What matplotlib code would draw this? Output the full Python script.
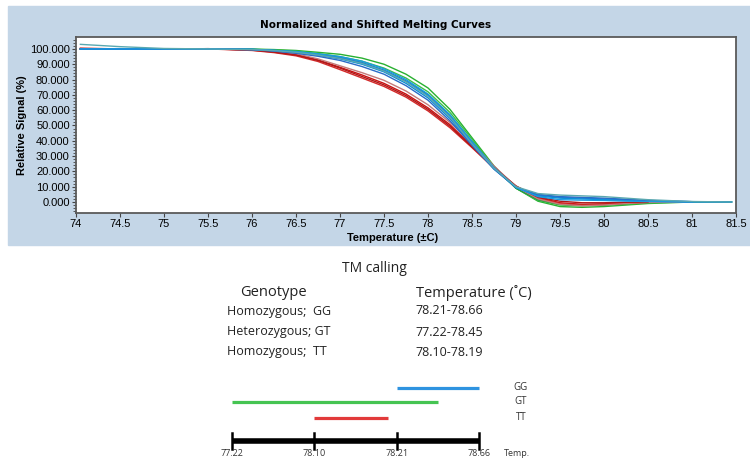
import numpy as np
import matplotlib
matplotlib.use("Agg")
import matplotlib.pyplot as plt
from matplotlib.patches import Rectangle
from matplotlib.ticker import MultipleLocator

nan = np.nan

# --- melting curves (relative signal %) ---
temps = [74.05, 74.5, 75.0, 75.5, 76.0, 76.25, 76.5, 76.75, 77.0, 77.25, 77.5,
         77.75, 78.0, 78.25, 78.5, 78.75, 79.0, 79.25, 79.5, 79.75, 80.0,
         80.25, 80.5, 81.0, 81.45]

red_curves = [
    [100.5, 100, 99.8, 100.2, 99.3, 98.2, 96.3, 92.8, 88.0, 83.0, 77.5, 70.5,
     61.5, 50.5, 36.5, 22.5, 10.5, 3.0, -0.5, -1.5, -1.2, -0.6, nan, nan, nan],
    [100.2, 99.8, 100.1, 100.0, 99.0, 97.6, 95.5, 91.8, 86.5, 81.0, 75.5, 68.5,
     59.5, 48.5, 35.5, 22.0, 10.0, 2.5, -1.0, -2.0, -1.5, -0.8, -0.2, nan, nan],
    [100, 100.1, 99.9, 100, 99.5, 98.5, 96.8, 93.5, 89.0, 84.5, 79.5, 72.5,
     63.5, 52.0, 38.5, 23.5, 10.0, 2.0, -1.5, -2.5, -2.0, -1.0, -0.3, 0, nan],
    [100, 99.9, 100, 100.1, 99.2, 97.9, 96.0, 92.5, 87.5, 82.0, 76.5, 69.5,
     60.5, 49.5, 36.0, 22.5, 10.2, 3.2, 0.5, -0.5, -0.5, -0.2, 0, nan, nan],
]
red_colors = ["#cc1010", "#d42a2a", "#c47a7a", "#b01818"]

green_curves = [
    [100, 100, 100, 100, 99.9, 99.6, 99.0, 97.8, 96.5, 94.0, 90.0, 83.5,
     74.5, 60.5, 42.0, 23.5, 9.0, 0.5, -3.0, -3.5, -3.0, -2.0, -1.0, 0, 0],
    [100, 100, 100, 100, 99.8, 99.3, 98.5, 97.0, 95.0, 92.0, 87.5, 81.0,
     72.0, 58.5, 41.0, 23.0, 9.0, 1.0, -2.0, -2.5, -2.2, -1.5, -0.5, 0, nan],
    [100, 100, 100, 100, 99.7, 99.0, 98.0, 96.2, 94.0, 91.0, 86.0, 79.0,
     70.0, 56.5, 39.5, 22.5, 9.0, 1.5, -1.5, -2.0, -1.8, -1.0, -0.3, nan, nan],
]
green_colors = ["#28b030", "#3cc048", "#1e9a40"]

blue_curves = [
    [100, 99.8, 100, 100, 99.7, 99.0, 98.0, 96.5, 94.5, 91.0, 86.0, 79.0,
     69.5, 56.0, 38.5, 22.0, 9.5, 4.5, 3.0, 2.5, 2.0, 1.5, 0.8, 0.2, 0],
    [100, 100.2, 99.8, 100, 99.6, 98.8, 97.6, 95.8, 93.5, 90.0, 85.0, 77.5,
     68.0, 54.5, 37.5, 21.5, 9.5, 4.0, 2.5, 2.0, 1.5, 1.0, 0.5, 0, 0],
    [99.8, 100, 100, 100, 99.5, 98.6, 97.2, 95.2, 92.5, 88.5, 83.5, 76.0,
     66.5, 53.0, 37.0, 21.5, 9.5, 5.0, 3.5, 3.0, 2.5, 1.8, 1.0, 0.2, nan],
    [100, 100, 100, 100, 99.8, 99.1, 98.3, 96.8, 95.0, 92.0, 87.0, 80.0,
     70.5, 57.0, 39.5, 22.5, 9.5, 3.5, 1.5, 1.2, 1.0, 0.6, 0.3, 0, nan],
    [103, 101.5, 100.3, 100, 99.6, 98.9, 97.8, 96.0, 93.8, 90.5, 85.5, 78.5,
     69.0, 55.5, 38.0, 22.0, 10.0, 5.5, 4.5, 4.0, 3.5, 2.5, 1.5, 0.3, 0],
]
blue_colors = ["#1e7ad8", "#0a8ed8", "#2a6cc8", "#1a9ae0", "#5aa8b0"]

# --- TM calling table ---
genotypes = ["Homozygous;  GG", "Heterozygous; GT", "Homozygous;  TT"]
tm_ranges = ["78.21-78.66", "77.22-78.45", "78.10-78.19"]

# --- range diagram (ordinal tick positions) ---
range_labels = ["GG", "GT", "TT"]
range_start = [2.0, 0.0, 1.0]
range_end = [3.0, 2.5, 1.9]
range_colors = ["#2f93e0", "#45c452", "#e23a3a"]
scale_ticks = ["77.22", "78.10", "78.21", "78.66"]

W, H = 750, 459
fig = plt.figure(figsize=(7.5, 4.59), dpi=100)
fig.patch.set_facecolor("white")


def fx(px):
    return px / W


def fy(py):
    return 1 - py / H


# top panel background
fig.patches.append(Rectangle((fx(8), fy(245)), 1 - fx(8), fy(6) - fy(245),
                             transform=fig.transFigure, color="#c4d6e7",
                             zorder=-10))

ax = fig.add_axes([fx(76), fy(213), fx(736) - fx(76), fy(37) - fy(213)])
ax.set_zorder(2)
ax.set_facecolor("white")
for ys, c in zip(green_curves, green_colors):
    ax.plot(temps, ys, color=c, lw=1.0)
for ys, c in zip(red_curves, red_colors):
    ax.plot(temps, ys, color=c, lw=1.0)
for ys, c in zip(blue_curves, blue_colors):
    ax.plot(temps, ys, color=c, lw=1.0)

ax.set_xlim(74, 81.5)
ax.set_ylim(-7.2, 107.8)
ax.xaxis.set_major_locator(MultipleLocator(0.5))
ax.yaxis.set_major_locator(MultipleLocator(10))
ax.yaxis.set_minor_locator(MultipleLocator(2))
ax.xaxis.set_major_formatter(lambda v, p: f"{v:g}")
ax.yaxis.set_major_formatter(lambda v, p: f"{v:.3f}")
ax.tick_params(axis="both", which="major", length=3, width=0.8,
               color="#444444", labelsize=8, pad=1.5)
ax.tick_params(axis="y", which="minor", length=2, width=0.6, color="#444444")
for lab in ax.get_xticklabels() + ax.get_yticklabels():
    lab.set_family("Liberation Sans")
for sp in ax.spines.values():
    sp.set_color("#5a5a5a")
    sp.set_linewidth(1.3)

ax.set_ylabel("Relative Signal (%)", fontsize=8, fontweight="bold",
              family="Liberation Sans", labelpad=2)
ax.set_xlabel("Temperature (±C)", fontsize=8, fontweight="bold",
              family="Liberation Sans", labelpad=0)
ax.xaxis.set_label_coords(0.48, -0.115)
fig.text(fx(376), fy(25), "Normalized and Shifted Melting Curves",
         ha="center", va="center", fontsize=7.5, fontweight="bold",
         family="DejaVu Sans")

# --- TM calling table ---
tfont = dict(family="Open Sans", color="#222222")
fig.text(fx(374), fy(268), "TM calling", ha="center", va="center",
         fontsize=10, **tfont)
fig.text(fx(273), fy(293), "Genotype", ha="center", va="center",
         fontsize=10.5, **tfont)
fig.text(fx(474), fy(293), "Temperature (˚C)", ha="center", va="center",
         fontsize=10.5, **tfont)
row_y = [311, 332, 352]
for g, r, y in zip(genotypes, tm_ranges, row_y):
    fig.text(fx(227), fy(y), g, ha="left", va="center", fontsize=9, **tfont)
    fig.text(fx(449), fy(y), r, ha="center", va="center", fontsize=9, **tfont)

# --- range diagram ---
bx = fig.add_axes([fx(200), 0, fx(550) - fx(200), fy(375)])
bx.set_xlim((200 - 232) / 82.33, (550 - 232) / 82.33)
bx.set_ylim(459, 375)
bx.axis("off")
bar_y = [388, 402, 418]
for s, e, c, lab, y in zip(range_start, range_end, range_colors,
                           range_labels, bar_y):
    bx.plot([s, e], [y, y], color=c, lw=2.3, solid_capstyle="butt")
    bx.text(3.51, y - 1, lab, ha="center", va="center", fontsize=7,
            family="Open Sans", color="#333333")
pos = np.arange(len(scale_ticks))
bx.plot([pos[0], pos[-1]], [441, 441], color="black", lw=4,
        solid_capstyle="butt")
for p, t in zip(pos, scale_ticks):
    bx.plot([p, p], [433, 449], color="black", lw=1.8)
    bx.text(p, 453, t, ha="center", va="center", fontsize=6.5,
            family="Open Sans", color="#333333")
bx.text(3.46, 453, "Temp.", ha="center", va="center", fontsize=6.5,
        family="Open Sans", color="#333333")

fig.savefig("out.png", dpi=100)
